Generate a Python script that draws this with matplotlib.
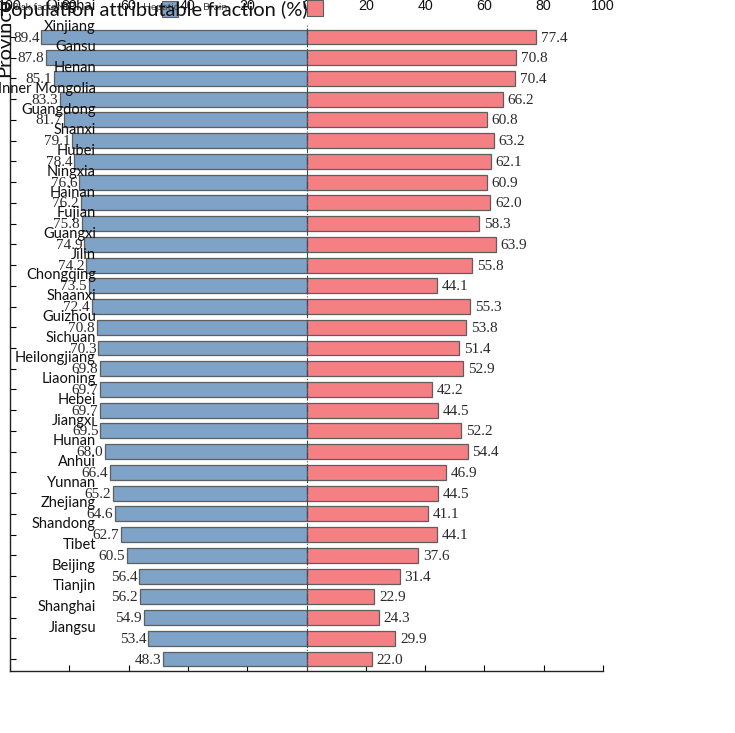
import matplotlib
matplotlib.use('Agg')
import matplotlib.pyplot as plt
import numpy as np
from matplotlib.ticker import FuncFormatter
from matplotlib.patches import Rectangle
import matplotlib.transforms as mtransforms

provinces = ["Qinghai", "Xinjiang", "Gansu", "Henan", "Inner Mongolia", "Guangdong", "Shanxi",
             "Hubei", "Ningxia", "Hainan", "Fujian", "Guangxi", "Jilin", "Chongqing", "Shaanxi",
             "Guizhou", "Sichuan", "Heilongjiang", "Liaoning", "Hebei", "Jiangxi", "Hunan",
             "Anhui", "Yunnan", "Zhejiang", "Shandong", "Tibet", "Beijing", "Tianjin",
             "Shanghai", "Jiangsu"]
left_values = [89.4, 87.8, 85.1, 83.3, 81.7, 79.1, 78.4, 76.6, 76.2, 75.8, 74.9, 74.2, 73.5,
               72.4, 70.8, 70.3, 69.8, 69.7, 69.7, 69.5, 68.0, 66.4, 65.2, 64.6, 62.7, 60.5,
               56.4, 56.2, 54.9, 53.4, 48.3]
right_values = [77.4, 70.8, 70.4, 66.2, 60.8, 63.2, 62.1, 60.9, 62.0, 58.3, 63.9, 55.8, 44.1,
                55.3, 53.8, 51.4, 52.9, 42.2, 44.5, 52.2, 54.4, 46.9, 44.5, 41.1, 44.1, 37.6,
                31.4, 22.9, 24.3, 29.9, 22.0]
xticks = [-100, -80, -60, -40, -20, 0, 20, 40, 60, 80, 100]
legend_labels = ["Risk factor", "Hepatic", "Brain"]

BLUE = '#7FA2C7'
RED = '#F58084'
EDGE = '#5E5E5E'

W, H = 735, 733
fig = plt.figure(figsize=(W / 100, H / 100), dpi=100)
ax = fig.add_axes([10 / W, 62 / H, 593 / W, 646 / H])

y = np.arange(len(left_values))
ax.barh(y, [-v for v in left_values], height=0.72, color=BLUE, edgecolor=EDGE, linewidth=0.9, zorder=2)
ax.barh(y, right_values, height=0.72, color=RED, edgecolor=EDGE, linewidth=0.9, zorder=2)
ax.axvline(0, color='#3c4a58', lw=0.8, ls='-.', zorder=3)

ax.set_xlim(-100, 100)
ax.set_ylim(len(y) - 1 + 0.58, -0.58)

for s in ['top', 'right']:
    ax.spines[s].set_visible(False)
for s in ['left', 'bottom']:
    ax.spines[s].set_linewidth(1.0)
    ax.spines[s].set_color('#222222')

ax.set_xticks(xticks)
ax.xaxis.set_major_formatter(FuncFormatter(lambda v, p: f"{abs(int(v))}"))
ax.tick_params(axis='x', direction='in', bottom=True, top=False, labelbottom=False,
               labeltop=True, length=4, pad=9, labelsize=10.3, labelcolor='#111111')
for lab in ax.get_xticklabels():
    lab.set_family('Liberation Sans')
ax.set_yticks(y)
ax.tick_params(axis='y', direction='in', left=True, labelleft=False, length=4)

sans = 'Lato'
serif = 'Liberation Serif'

trans = mtransforms.blended_transform_factory(ax.transAxes, ax.transData)
for i, name in enumerate(provinces):
    ax.text(0.145, i - 1.5, name, transform=trans, ha='right', va='center',
            fontsize=10.5, family=sans, color='#111111', zorder=5, clip_on=False)

for i, v in enumerate(left_values):
    ax.text(-v - 0.6, i + 0.05, f"{v:.1f}", ha='right', va='center', fontsize=11,
            family=serif, color='#2a2a2a', zorder=4)
for i, v in enumerate(right_values):
    ax.text(v + 1.6, i + 0.05, f"{v:.1f}", ha='left', va='center', fontsize=11,
            family=serif, color='#2a2a2a', zorder=4)

# legend fragments at top
fig.text(12 / W, 1 - 7 / H, legend_labels[0], ha='left', va='center', fontsize=7.5,
         family=sans, color='#444444')
fig.text(143 / W, 1 - 7 / H, legend_labels[1], ha='left', va='center', fontsize=7.5,
         family=sans, color='#444444')
fig.text(203 / W, 1 - 7 / H, legend_labels[2], ha='left', va='center', fontsize=7.5,
         family=sans, color='#444444')
fig.patches.append(Rectangle((162 / W, 1 - 17 / H), 16 / W, 16 / H, transform=fig.transFigure,
                             facecolor=BLUE, edgecolor=EDGE, linewidth=0.8))
fig.patches.append(Rectangle((307 / W, 1 - 16 / H), 16 / W, 16 / H, transform=fig.transFigure,
                             facecolor=RED, edgecolor=EDGE, linewidth=0.8))

fig.text(153 / W, 1 - 10 / H, "Population attributable fraction (%)", ha='center', va='center',
         fontsize=14.5, family=sans, color='#111111', zorder=10)
fig.text(5 / W, 1 - 77 / H, "Province", rotation=90, ha='center', va='bottom',
         fontsize=14.5, family=sans, color='#111111')

fig.savefig('out.png', dpi=100)
